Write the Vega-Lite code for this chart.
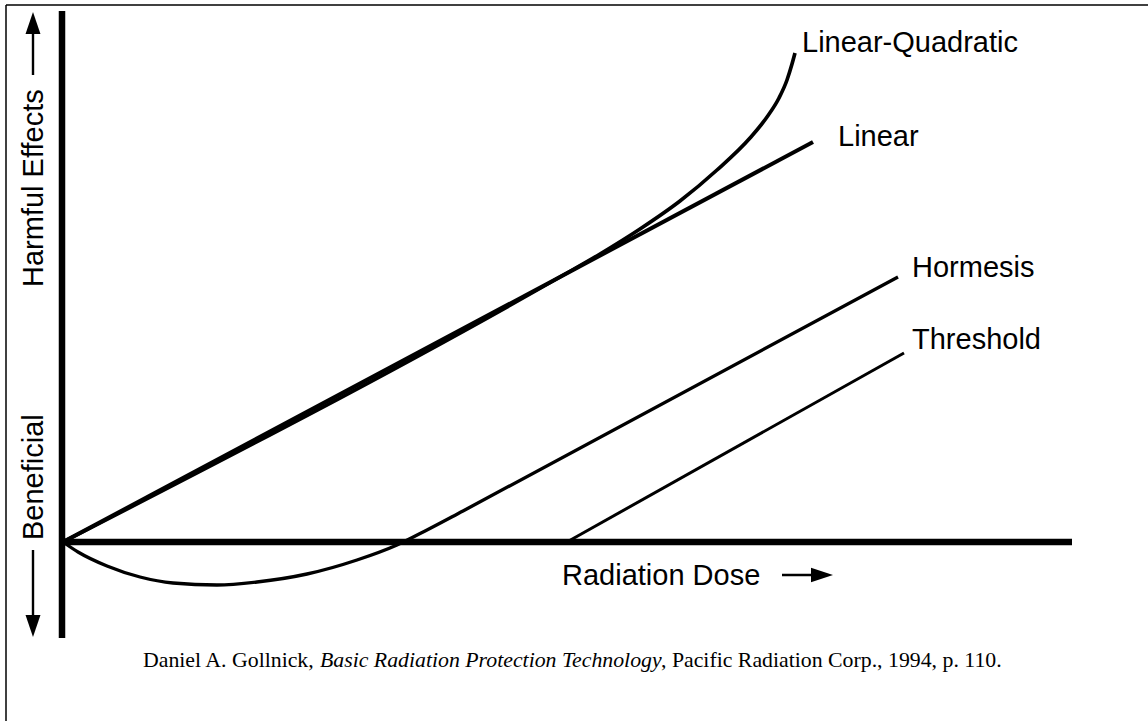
{
  "$schema": "https://vega.github.io/schema/vega-lite/v6.json",
  "width": 1148,
  "height": 721,
  "autosize": "none",
  "padding": 0,
  "background": "white",
  "config": {"view": {"stroke": null}},
  "datasets": {
    "frame": [
      {"dose": -57, "effect": 537, "dose2": -57, "effect2": -179},
      {"dose": -57, "effect": 537, "dose2": 1085, "effect2": 537}
    ],
    "axes": [
      {"dose": -1, "effect": 531, "dose2": -1, "effect2": -96},
      {"dose": -1, "effect": 0, "dose2": 1009, "effect2": 0}
    ],
    "shafts": [
      {"dose": -30, "effect": 467, "dose2": -30, "effect2": 512},
      {"dose": -30, "effect": -8, "dose2": -30, "effect2": -75},
      {"dose": 719, "effect": -33, "dose2": 752, "effect2": -33}
    ],
    "heads": [
      {"dose": -30, "effect": 530, "dir": "up"},
      {"dose": -30, "effect": -95, "dir": "down"},
      {"dose": 770, "effect": -33, "dir": "right"}
    ],
    "curves": [
      {"model": "Linear", "i": 0, "dose": 0, "effect": 0},
      {"model": "Linear", "i": 1, "dose": 750, "effect": 400},
      {"model": "Linear-Quadratic", "i": 0, "dose": 0, "effect": 0},
      {"model": "Linear-Quadratic", "i": 1, "dose": 497, "effect": 265},
      {"model": "Linear-Quadratic", "i": 2, "dose": 537, "effect": 288},
      {"model": "Linear-Quadratic", "i": 3, "dose": 577, "effect": 313},
      {"model": "Linear-Quadratic", "i": 4, "dose": 617, "effect": 341},
      {"model": "Linear-Quadratic", "i": 5, "dose": 654, "effect": 372},
      {"model": "Linear-Quadratic", "i": 6, "dose": 687, "effect": 404},
      {"model": "Linear-Quadratic", "i": 7, "dose": 704, "effect": 425},
      {"model": "Linear-Quadratic", "i": 8, "dose": 716, "effect": 444},
      {"model": "Linear-Quadratic", "i": 9, "dose": 724, "effect": 462},
      {"model": "Linear-Quadratic", "i": 10, "dose": 729, "effect": 478},
      {"model": "Linear-Quadratic", "i": 11, "dose": 732, "effect": 489},
      {"model": "Hormesis", "i": 0, "dose": 0, "effect": 0},
      {"model": "Hormesis", "i": 1, "dose": 15, "effect": -10},
      {"model": "Hormesis", "i": 2, "dose": 44, "effect": -24},
      {"model": "Hormesis", "i": 3, "dose": 77, "effect": -35},
      {"model": "Hormesis", "i": 4, "dose": 110, "effect": -41},
      {"model": "Hormesis", "i": 5, "dose": 154, "effect": -43},
      {"model": "Hormesis", "i": 6, "dose": 194, "effect": -40},
      {"model": "Hormesis", "i": 7, "dose": 244, "effect": -32},
      {"model": "Hormesis", "i": 8, "dose": 294, "effect": -18},
      {"model": "Hormesis", "i": 9, "dose": 334, "effect": -3},
      {"model": "Hormesis", "i": 10, "dose": 364, "effect": 12},
      {"model": "Hormesis", "i": 11, "dose": 400, "effect": 31},
      {"model": "Hormesis", "i": 12, "dose": 835, "effect": 265},
      {"model": "Threshold", "i": 0, "dose": 504, "effect": 0},
      {"model": "Threshold", "i": 1, "dose": 841, "effect": 189}
    ],
    "labels": [
      {"text": "Linear-Quadratic", "dose": 739, "effect": 490},
      {"text": "Linear", "dose": 775, "effect": 396},
      {"text": "Hormesis", "dose": 849, "effect": 265},
      {"text": "Threshold", "dose": 849, "effect": 193},
      {"text": "Radiation Dose", "dose": 499, "effect": -43}
    ],
    "vlabels": [
      {"text": "Harmful Effects", "dose": -20, "effect": 255},
      {"text": "Beneficial", "dose": -20, "effect": 2}
    ],
    "cite": [
      {"text": "Daniel A. Gollnick,", "dose": 80, "effect": -125},
      {"text": ", Pacific Radiation Corp., 1994, p. 110.", "dose": 598, "effect": -125}
    ],
    "citeItalic": [
      {"text": "Basic Radiation Protection Technology", "dose": 257, "effect": -125}
    ]
  },
  "encoding": {
    "x": {"field": "dose", "type": "quantitative", "axis": null,
          "scale": {"domain": [-63, 1085], "nice": false, "zero": false}},
    "y": {"field": "effect", "type": "quantitative", "axis": null,
          "scale": {"domain": [-179, 542], "nice": false, "zero": false}}
  },
  "layer": [
    {
      "data": {"name": "frame"},
      "mark": {"type": "rule", "color": "black", "strokeWidth": 1.5},
      "encoding": {"x2": {"field": "dose2"}, "y2": {"field": "effect2"}}
    },
    {
      "data": {"name": "axes"},
      "mark": {"type": "rule", "color": "black", "strokeWidth": 6.5, "strokeCap": "butt"},
      "encoding": {"x2": {"field": "dose2"}, "y2": {"field": "effect2"}}
    },
    {
      "data": {"name": "shafts"},
      "mark": {"type": "rule", "color": "black", "strokeWidth": 2.4, "strokeCap": "butt"},
      "encoding": {"x2": {"field": "dose2"}, "y2": {"field": "effect2"}}
    },
    {
      "data": {"name": "heads"},
      "mark": {"type": "point", "filled": true, "color": "black", "opacity": 1, "size": 484, "strokeWidth": 0},
      "encoding": {
        "shape": {"field": "dir", "type": "nominal", "legend": null,
                  "scale": {"domain": ["up", "down", "right"],
                            "range": ["M0,0L-0.68,2L0.68,2Z", "M0,0L-0.68,-2L0.68,-2Z", "M0,0L-2,-0.65L-2,0.65Z"]}}
      }
    },
    {
      "data": {"name": "curves"},
      "mark": {"type": "line", "color": "black", "interpolate": "monotone", "strokeCap": "butt"},
      "encoding": {
        "detail": {"field": "model", "type": "nominal"},
        "order": {"field": "i", "type": "quantitative"},
        "strokeWidth": {"field": "model", "type": "nominal", "legend": null,
                        "scale": {"domain": ["Linear", "Linear-Quadratic", "Hormesis", "Threshold"],
                                  "range": [4, 3, 3, 3.5]}}
      }
    },
    {
      "data": {"name": "labels"},
      "mark": {"type": "text", "align": "left", "baseline": "alphabetic", "font": "Liberation Sans", "fontSize": 29, "color": "black"},
      "encoding": {"text": {"field": "text"}}
    },
    {
      "data": {"name": "vlabels"},
      "mark": {"type": "text", "align": "left", "baseline": "alphabetic", "angle": 270, "font": "Liberation Sans", "fontSize": 29, "color": "black"},
      "encoding": {"text": {"field": "text"}}
    },
    {
      "data": {"name": "cite"},
      "mark": {"type": "text", "align": "left", "baseline": "alphabetic", "font": "Liberation Serif", "fontSize": 21.8, "color": "black"},
      "encoding": {"text": {"field": "text"}}
    },
    {
      "data": {"name": "citeItalic"},
      "mark": {"type": "text", "align": "left", "baseline": "alphabetic", "font": "Liberation Serif", "fontStyle": "italic", "fontSize": 21.8, "color": "black"},
      "encoding": {"text": {"field": "text"}}
    }
  ]
}
